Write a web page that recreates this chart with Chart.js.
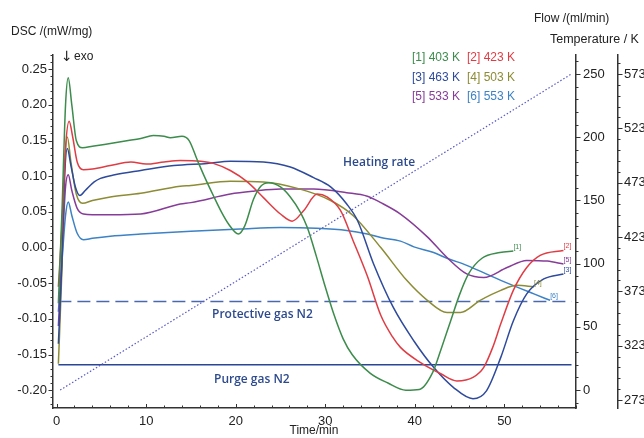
<!DOCTYPE html>
<html>
<head>
<meta charset="utf-8">
<script src="https://cdn.jsdelivr.net/npm/chart.js@4.4.0/dist/chart.umd.min.js"></script>
<style>
html, body { margin: 0; padding: 0; background: #fff; }
</style>
</head>
<body>
<canvas id="dsc" width="644" height="438"></canvas>
<script>
// tick labels
const dscTicks = [-0.20, -0.15, -0.10, -0.05, 0.00, 0.05, 0.10, 0.15, 0.20, 0.25];
const flowTicks = [0, 50, 100, 150, 200, 250];
const tempTicks = [273, 323, 373, 423, 473, 523, 573];
const timeTicks = [0, 10, 20, 30, 40, 50];

const seriesNames = ['[1] 403 K', '[2] 423 K', '[3] 463 K', '[4] 503 K', '[5] 533 K', '[6] 553 K'];
const seriesTags = ['[1]', '[2]', '[3]', '[4]', '[5]', '[6]'];

// DSC curves (time in min, DSC in mW/mg)
const t1 = [0.2, 0.6, 1.0, 1.3, 1.7, 2.2, 2.9, 4, 6, 8, 9.4, 10.8, 12.0, 12.7, 14.0, 14.8, 15.7, 16.6, 17.5, 18.4, 19.2, 20.3, 21.0, 22.0, 22.8, 23.7, 25, 26.1, 27.2, 28, 29, 30, 31, 32, 33, 35, 37, 39, 40.5, 42, 43, 44, 45, 46, 47.5, 49.5, 51];
const dsc1 = [-0.078, 0.05, 0.20, 0.238, 0.20, 0.15, 0.140, 0.142, 0.146, 0.150, 0.153, 0.157, 0.156, 0.154, 0.156, 0.150, 0.123, 0.097, 0.073, 0.050, 0.033, 0.019, 0.030, 0.068, 0.086, 0.091, 0.085, 0.071, 0.050, 0.028, -0.012, -0.055, -0.095, -0.128, -0.150, -0.176, -0.190, -0.200, -0.199, -0.175, -0.140, -0.103, -0.066, -0.037, -0.015, -0.007, -0.005];

const t2 = [0.2, 0.6, 1.0, 1.4, 1.8, 2.3, 3.0, 4, 6, 8.3, 10, 12, 13.8, 16.1, 17.5, 19.4, 21.3, 23.1, 25, 26.3, 27.6, 29.1, 30.2, 31.7, 33.1, 34.7, 36.2, 37.5, 38.4, 40.6, 42.9, 44.7, 46.5, 47.7, 48.7, 49.6, 51, 52.5, 54, 56.6];
const dsc2 = [-0.055, 0.03, 0.14, 0.177, 0.155, 0.12, 0.109, 0.110, 0.115, 0.120, 0.117, 0.120, 0.122, 0.121, 0.118, 0.108, 0.092, 0.070, 0.047, 0.037, 0.052, 0.075, 0.071, 0.052, 0.010, -0.040, -0.095, -0.125, -0.140, -0.161, -0.177, -0.187, -0.182, -0.168, -0.140, -0.107, -0.060, -0.028, -0.011, -0.004];

const t3 = [0.2, 0.6, 0.9, 1.2, 1.6, 2.1, 2.6, 3.2, 4.2, 4.9, 6.5, 9.4, 13.1, 16.8, 19.4, 23.1, 26.1, 28.7, 30.6, 32.4, 33.6, 35.4, 37.6, 39.9, 42.1, 44.3, 46.5, 48, 49.6, 51, 52.5, 54.4, 56.6];
const dsc3 = [-0.135, -0.02, 0.10, 0.139, 0.115, 0.085, 0.073, 0.080, 0.092, 0.097, 0.102, 0.108, 0.115, 0.118, 0.121, 0.120, 0.113, 0.098, 0.085, 0.061, 0.038, -0.023, -0.084, -0.131, -0.168, -0.196, -0.212, -0.201, -0.154, -0.103, -0.065, -0.044, -0.037];

const t4 = [0.2, 0.6, 0.9, 1.2, 1.6, 2.2, 2.9, 4, 6, 9.4, 13.8, 15, 19.4, 23.1, 26.9, 30.6, 33.1, 36.2, 39.1, 41.4, 43.6, 45.1, 47.3, 49.6, 51.4, 53.3];
const dsc4 = [-0.163, -0.03, 0.11, 0.155, 0.12, 0.075, 0.062, 0.066, 0.071, 0.076, 0.086, 0.087, 0.093, 0.092, 0.083, 0.066, 0.045, 0.000, -0.046, -0.074, -0.091, -0.091, -0.074, -0.060, -0.053, -0.055];

const t5 = [0.2, 0.6, 1.0, 1.3, 1.7, 2.3, 3.0, 4, 6, 9.4, 13.8, 15, 19.4, 22, 25, 28.7, 32.4, 34.7, 36.2, 38.4, 41.4, 43.6, 45.8, 47.7, 50.3, 52.5, 54.8, 56.6];
const dsc5 = [-0.11, -0.01, 0.085, 0.102, 0.08, 0.055, 0.047, 0.046, 0.046, 0.047, 0.061, 0.063, 0.075, 0.079, 0.082, 0.082, 0.077, 0.072, 0.063, 0.047, 0.015, -0.014, -0.037, -0.042, -0.028, -0.018, -0.019, -0.023];

const t6 = [0.2, 0.6, 1.0, 1.3, 1.7, 2.3, 3.0, 4, 6, 9.4, 15, 20.5, 25, 29, 32.4, 34.7, 36.2, 38.4, 39.9, 42.1, 43.6, 45.8, 49.6, 53.3, 55.1];
const dsc6 = [-0.09, -0.02, 0.045, 0.064, 0.045, 0.02, 0.011, 0.013, 0.016, 0.019, 0.023, 0.026, 0.028, 0.027, 0.024, 0.019, 0.014, 0.009, 0.001, -0.007, -0.015, -0.025, -0.046, -0.065, -0.074];

// flow / heating programme (flow in ml/min)
const heatT = [0.4, 57.5];
const heatFlow = [0, 250];
const gasT = [0.2, 57.5];
const protectiveFlow = [70, 70];
const purgeFlow = [20, 20];

const seriesT = [t1, t2, t3, t4, t5, t6];
const seriesDsc = [dsc1, dsc2, dsc3, dsc4, dsc5, dsc6];
const colors = ['#3c8c4c', '#e03c44', '#2e4a9c', '#8c8c34', '#863c98', '#3c82c4'];

const axisColor = '#333';
const textColor = '#222';
const labelBlue = '#2d4a8e';
const tickFont = { family: '"Liberation Sans", Arial, sans-serif', size: 13 };

function pts(xs, ys) {
    return xs.map((v, i) => ({ x: v, y: ys[i] }));
}

const datasets = seriesT.map((ts, i) => ({
    label: seriesNames[i],
    data: pts(ts, seriesDsc[i]),
    borderColor: colors[i],
    borderWidth: 1.5,
    pointRadius: 0,
    cubicInterpolationMode: 'monotone',
    yAxisID: 'y',
}));

datasets.push({
    label: 'Heating rate',
    data: pts(heatT, heatFlow),
    borderColor: '#5a5ac8',
    borderWidth: 1.2,
    borderDash: [1.5, 2],
    pointRadius: 0,
    yAxisID: 'y2',
});
datasets.push({
    label: 'Protective gas N2',
    data: pts(gasT, protectiveFlow),
    borderColor: '#4a68b0',
    borderWidth: 1.6,
    borderDash: [13, 6],
    pointRadius: 0,
    yAxisID: 'y2',
});
datasets.push({
    label: 'Purge gas N2',
    data: pts(gasT, purgeFlow),
    borderColor: '#2a4696',
    borderWidth: 1.4,
    pointRadius: 0,
    yAxisID: 'y2',
});

function setTicks(list) {
    return scale => { scale.ticks = list.map(v => ({ value: v })); };
}

// ticks, titles and annotations
const decorations = {
    id: 'decorations',
    afterDraw(chart) {
        const ctx = chart.ctx;
        const { x, y, y2, y3 } = chart.scales;
        ctx.save();
        ctx.strokeStyle = axisColor;
        ctx.lineWidth = 1;

        function run(min, max, step, fn) {
            for (let k = Math.ceil(min / step - 1e-6); k <= Math.floor(max / step + 1e-6); k++) fn(k * step);
        }
        function vTick(scale, xPos, dir, v, len) {
            const py = Math.round(scale.getPixelForValue(v)) + 0.5;
            ctx.beginPath();
            ctx.moveTo(xPos, py);
            ctx.lineTo(xPos + dir * len, py);
            ctx.stroke();
        }
        // left DSC axis
        run(y.min, y.max, 0.01, v => vTick(y, y.right, -1, v, 2.5));
        dscTicks.forEach(v => vTick(y, y.right, -1, v, 4.5));
        // flow axis
        run(y2.min, y2.max, 10, v => vTick(y2, y2.left, 1, v, 2.5));
        flowTicks.forEach(v => vTick(y2, y2.left, 1, v, 4.5));
        // temperature axis
        run(y3.min - 3, y3.max - 3, 10, v => vTick(y3, y3.left, 1, v + 3, 2.5));
        tempTicks.forEach(v => vTick(y3, y3.left, 1, v, 4.5));
        // time axis (inward)
        const xTick = (v, len) => {
            const px = Math.round(x.getPixelForValue(v)) + 0.5;
            ctx.beginPath();
            ctx.moveTo(px, x.top);
            ctx.lineTo(px, x.top - len);
            ctx.stroke();
        };
        run(0, x.max, 2, v => xTick(v, 2.5));
        timeTicks.forEach(v => xTick(v, 4));

        // axis titles
        ctx.fillStyle = textColor;
        ctx.textBaseline = 'middle';
        ctx.textAlign = 'left';
        ctx.font = '12px "Liberation Sans", Arial, sans-serif';
        ctx.fillText('DSC /(mW/mg)', 11, 32);
        ctx.fillText('Flow /(ml/min)', 534, 19);
        ctx.font = '12.5px "Liberation Sans", Arial, sans-serif';
        ctx.fillText('Temperature / K', 550, 40);
        ctx.font = '14px "DejaVu Sans", sans-serif';
        ctx.fillText('\u2193', 61, 57);
        ctx.font = '12px "Liberation Sans", Arial, sans-serif';
        ctx.fillText('exo', 74, 57);
        ctx.textAlign = 'center';
        ctx.fillText('Time/min', 314, 431);

        // legend
        ctx.textAlign = 'left';
        ctx.font = '12px "Liberation Sans", Arial, sans-serif';
        seriesNames.forEach((name, i) => {
            ctx.fillStyle = colors[i];
            ctx.fillText(name, 412 + (i % 2) * 55, 58 + Math.floor(i / 2) * 19.5);
        });

        // inline labels
        ctx.fillStyle = labelBlue;
        ctx.font = '600 12px "Open Sans", sans-serif';
        ctx.fillText('Heating rate', 343, 163);
        ctx.fillText('Protective gas N2', 212, 315);
        ctx.fillText('Purge gas N2', 214, 380);

        // curve end tags
        ctx.font = '7px "Liberation Sans", Arial, sans-serif';
        ctx.textAlign = 'center';
        seriesT.forEach((ts, i) => {
            const ds = seriesDsc[i];
            const px = x.getPixelForValue(ts[ts.length - 1]) + 4;
            const py = y.getPixelForValue(ds[ds.length - 1]) - 4;
            ctx.fillStyle = colors[i];
            ctx.fillText(seriesTags[i], px, py);
        });
        ctx.restore();
    },
};

const borderOpts = { display: true, color: axisColor, width: 1.5 };

new Chart(document.getElementById('dsc').getContext('2d'), {
    type: 'line',
    data: { datasets },
    options: {
        responsive: false,
        animation: false,
        devicePixelRatio: 1,
        layout: { padding: { top: 55, left: 0, right: 0, bottom: 0 } },
        plugins: { legend: { display: false }, tooltip: { enabled: false } },
        scales: {
            x: {
                type: 'linear',
                position: 'bottom',
                min: -0.4,
                max: 58,
                afterBuildTicks: setTicks(timeTicks),
                afterFit: s => { s.height = 30; },
                grid: { display: false, drawTicks: false },
                border: borderOpts,
                ticks: { color: textColor, font: tickFont, padding: 6 },
            },
            y: {
                position: 'left',
                min: -0.225,
                max: 0.27,
                afterBuildTicks: setTicks(dscTicks),
                afterFit: s => { s.width = 53; },
                grid: { display: false, drawTicks: false },
                border: borderOpts,
                ticks: { color: textColor, font: tickFont, padding: 6, callback: v => v.toFixed(2) },
            },
            y2: {
                position: 'right',
                weight: 0,
                min: -14.2,
                max: 265,
                afterBuildTicks: setTicks(flowTicks),
                afterFit: s => { s.width = 42; },
                grid: { display: false, drawTicks: false },
                border: borderOpts,
                ticks: { color: textColor, font: tickFont, padding: 7 },
            },
            y3: {
                position: 'right',
                weight: 1,
                min: 265.6,
                max: 590.5,
                afterBuildTicks: setTicks(tempTicks),
                afterFit: s => { s.width = 26; },
                grid: { display: false, drawTicks: false },
                border: borderOpts,
                ticks: { color: textColor, font: tickFont, padding: 6 },
            },
        },
    },
    plugins: [decorations],
});
</script>
</body>
</html>
